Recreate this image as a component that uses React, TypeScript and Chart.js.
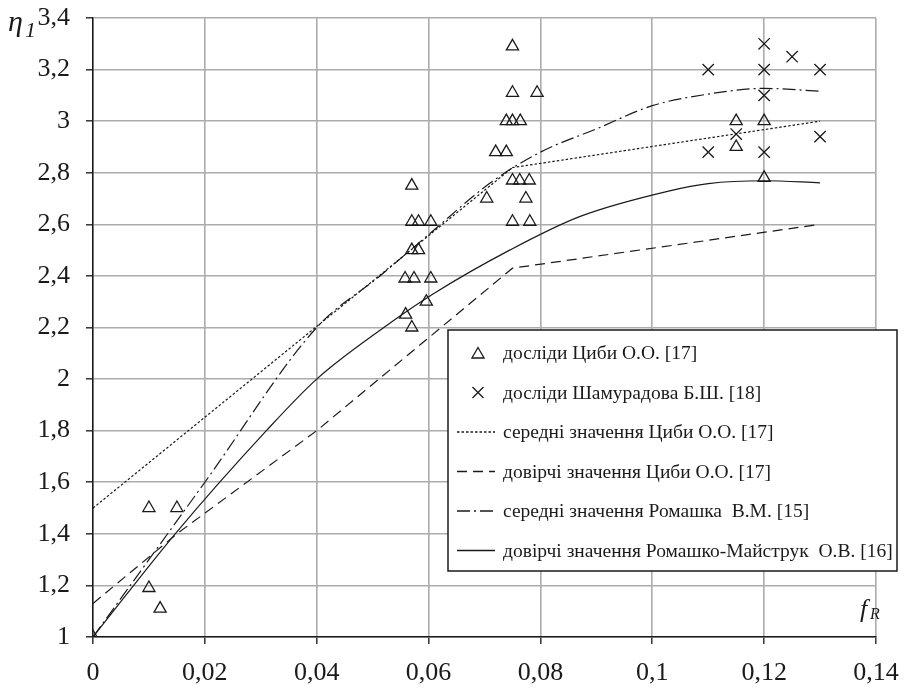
import React, { useEffect, useRef } from 'react';
import { Chart, registerables } from 'chart.js';

Chart.register(...registerables);

// Axis ranges
const xMin = 0;
const xMax = 0.14;
const xStep = 0.02;
const yMin = 1;
const yMax = 3.4;
const yStep = 0.2;

// досліди Циби О.О. [17] (triangles)
const tsybaPtsX = [
  0, 0.01, 0.015, 0.01, 0.012,
  0.0559, 0.057, 0.057, 0.057, 0.0582, 0.0604, 0.057, 0.0582, 0.0558, 0.0574, 0.0604, 0.0596,
  0.0704, 0.0774, 0.075, 0.0763, 0.078, 0.075, 0.0781, 0.075, 0.075, 0.0794, 0.0739, 0.075, 0.0764, 0.072, 0.0739,
  0.115, 0.115, 0.12, 0.12,
];
const tsybaPtsY = [
  1, 1.5, 1.5, 1.19, 1.11,
  2.25, 2.2, 2.75, 2.61, 2.61, 2.61, 2.5, 2.5, 2.39, 2.39, 2.39, 2.3,
  2.7, 2.7, 2.77, 2.77, 2.77, 2.61, 2.61, 3.29, 3.11, 3.11, 3.0, 3.0, 3.0, 2.88, 2.88,
  3.0, 2.9, 3.0, 2.78,
];

// досліди Шамурадова Б.Ш. [18] (crosses)
const shamPtsX = [0.11, 0.12, 0.125, 0.12, 0.13, 0.12, 0.115, 0.13, 0.11, 0.12];
const shamPtsY = [3.2, 3.3, 3.25, 3.2, 3.2, 3.1, 2.95, 2.94, 2.88, 2.88];

// середні значення Циби О.О. [17]
const meanTsybaX = [0, 0.075, 0.13];
const meanTsybaY = [1.5, 2.82, 3.0];

// довірчі значення Циби О.О. [17]
const confTsybaX = [0, 0.015, 0.04, 0.075, 0.13];
const confTsybaY = [1.13, 1.4, 1.8, 2.43, 2.6];

// середні значення Ромашка В.М. [15]
const meanRomX = [0, 0.02, 0.04, 0.0513, 0.06, 0.071, 0.08, 0.09, 0.1, 0.11, 0.12, 0.13];
const meanRomY = [1, 1.6, 2.2, 2.4, 2.56, 2.76, 2.88, 2.97, 3.06, 3.105, 3.127, 3.116];

// довірчі значення Ромашко-Майструк О.В. [16]
const confRomX = [0, 0.0147, 0.031, 0.04, 0.052, 0.0608, 0.0745, 0.087, 0.1031, 0.11, 0.12, 0.13];
const confRomY = [1, 1.4, 1.8, 2.0, 2.2, 2.33, 2.5, 2.63, 2.73, 2.758, 2.769, 2.761];

const seriesLabels = [
  'досліди Циби О.О. [17]',
  'досліди Шамурадова Б.Ш. [18]',
  'середні значення Циби О.О. [17]',
  'довірчі значення Циби О.О. [17]',
  'середні значення Ромашка  В.М. [15]',
  'довірчі значення Ромашко-Майструк  О.В. [16]',
];

const yAxisTitle = 'η';
const yAxisTitleSub = '1';
const xAxisTitle = 'f';
const xAxisTitleSub = 'R';

const SERIF = '"Liberation Serif", "Times New Roman", serif';
const INK = '#1a1a1a';

const pts = (xs: number[], ys: number[]) => xs.map((x, i) => ({ x, y: ys[i] }));
const fmt = (v: number) => String(Number(Number(v).toFixed(4))).replace('.', ',');

const overlayPlugin = {
  id: 'overlay',
  afterDraw(chart: any) {
    const ctx = chart.ctx as CanvasRenderingContext2D;
    ctx.save();
    // legend box
    const bx = 448, by = 330, bw = 449, bh = 241;
    ctx.fillStyle = '#ffffff';
    ctx.fillRect(bx, by, bw, bh);
    ctx.strokeStyle = INK;
    ctx.lineWidth = 1.5;
    ctx.strokeRect(bx, by, bw, bh);

    chart.data.datasets.forEach((ds: any, i: number) => {
      const y = 353 + i * 39.5;
      const cx = 478;
      ctx.strokeStyle = INK;
      ctx.lineWidth = 1.3;
      ctx.setLineDash([]);
      if (ds.pointStyle === 'triangle') {
        const r = 7;
        ctx.beginPath();
        ctx.moveTo(cx, y - r + 1.5);
        ctx.lineTo(cx + r * 0.866, y + r * 0.5 + 1.5);
        ctx.lineTo(cx - r * 0.866, y + r * 0.5 + 1.5);
        ctx.closePath();
        ctx.stroke();
      } else if (ds.pointStyle === 'crossRot') {
        const h = 5.5;
        ctx.beginPath();
        ctx.moveTo(cx - h, y - h);
        ctx.lineTo(cx + h, y + h);
        ctx.moveTo(cx + h, y - h);
        ctx.lineTo(cx - h, y + h);
        ctx.stroke();
      } else {
        ctx.setLineDash(ds.borderDash || []);
        ctx.beginPath();
        ctx.moveTo(457, y);
        ctx.lineTo(495, y);
        ctx.stroke();
        ctx.setLineDash([]);
      }
      ctx.fillStyle = INK;
      ctx.font = `19.5px ${SERIF}`;
      ctx.textBaseline = 'middle';
      ctx.textAlign = 'left';
      ctx.fillText(ds.label, 503, y + 1);
    });

    // axis titles
    ctx.fillStyle = INK;
    ctx.textBaseline = 'alphabetic';
    ctx.textAlign = 'left';
    ctx.font = `italic 30px ${SERIF}`;
    ctx.fillText(yAxisTitle, 8, 31);
    ctx.font = `italic 22px ${SERIF}`;
    ctx.fillText(yAxisTitleSub, 25, 37);
    ctx.font = `italic 26px ${SERIF}`;
    ctx.fillText(xAxisTitle, 860, 617);
    ctx.font = `italic 16px ${SERIF}`;
    ctx.fillText(xAxisTitleSub, 870, 619);
    ctx.restore();
  },
};

export default function App() {
  const canvasRef = useRef<HTMLCanvasElement | null>(null);

  useEffect(() => {
    if (!canvasRef.current) return;
    const lineBase = {
      borderColor: INK,
      backgroundColor: INK,
      borderWidth: 1.2,
      pointRadius: 0,
      showLine: true,
      fill: false,
    };
    const chart = new Chart(canvasRef.current, {
      type: 'scatter',
      data: {
        datasets: [
          {
            label: seriesLabels[0],
            data: pts(tsybaPtsX, tsybaPtsY),
            pointStyle: 'triangle',
            pointRadius: 7,
            borderColor: INK,
            backgroundColor: 'rgba(0,0,0,0)',
            borderWidth: 1.3,
            showLine: false,
          },
          {
            label: seriesLabels[1],
            data: pts(shamPtsX, shamPtsY),
            pointStyle: 'crossRot',
            pointRadius: 8,
            borderColor: INK,
            backgroundColor: INK,
            borderWidth: 1.3,
            showLine: false,
          },
          {
            ...lineBase,
            label: seriesLabels[2],
            data: pts(meanTsybaX, meanTsybaY),
            borderDash: [2.5, 2],
            tension: 0,
          },
          {
            ...lineBase,
            label: seriesLabels[3],
            data: pts(confTsybaX, confTsybaY),
            borderDash: [10, 6],
            tension: 0,
          },
          {
            ...lineBase,
            label: seriesLabels[4],
            data: pts(meanRomX, meanRomY),
            borderDash: [13, 4, 2, 4],
            cubicInterpolationMode: 'monotone',
          },
          {
            ...lineBase,
            label: seriesLabels[5],
            data: pts(confRomX, confRomY),
            borderDash: [],
            cubicInterpolationMode: 'monotone',
          },
        ],
      },
      options: {
        animation: false,
        responsive: true,
        maintainAspectRatio: false,
        layout: { padding: { left: 0, right: 28, top: 18, bottom: 0 } },
        plugins: { legend: { display: false }, tooltip: { enabled: false } },
        scales: {
          x: {
            type: 'linear',
            min: xMin,
            max: xMax,
            afterFit: (s: any) => { s.height = 52; s.paddingLeft = 0; s.paddingRight = 0; },
            ticks: {
              stepSize: xStep,
              callback: (v: any) => fmt(v),
              font: { family: SERIF, size: 26 },
              color: INK,
              padding: 14,
              maxRotation: 0,
              autoSkip: false,
            },
            grid: { color: '#acacac', lineWidth: 1.6, tickColor: '#333', tickLength: 7, tickWidth: 1.5 },
            border: { color: INK, width: 1.5 },
          },
          y: {
            type: 'linear',
            min: yMin,
            max: yMax,
            afterFit: (s: any) => { s.width = 93; s.paddingTop = 0; s.paddingBottom = 0; },
            ticks: {
              stepSize: yStep,
              callback: (v: any) => fmt(v),
              font: { family: SERIF, size: 26 },
              color: INK,
              padding: 16,
              autoSkip: false,
            },
            grid: { color: '#acacac', lineWidth: 1.6, tickColor: '#333', tickLength: 7, tickWidth: 1.5 },
            border: { color: INK, width: 1.5 },
          },
        },
      },
      plugins: [overlayPlugin],
    } as any);
    return () => chart.destroy();
  }, []);

  return (
    <div style={{ position: 'fixed', left: 0, top: 0, width: 904, height: 689, background: '#fff' }}>
      <canvas ref={canvasRef} />
    </div>
  );
}
